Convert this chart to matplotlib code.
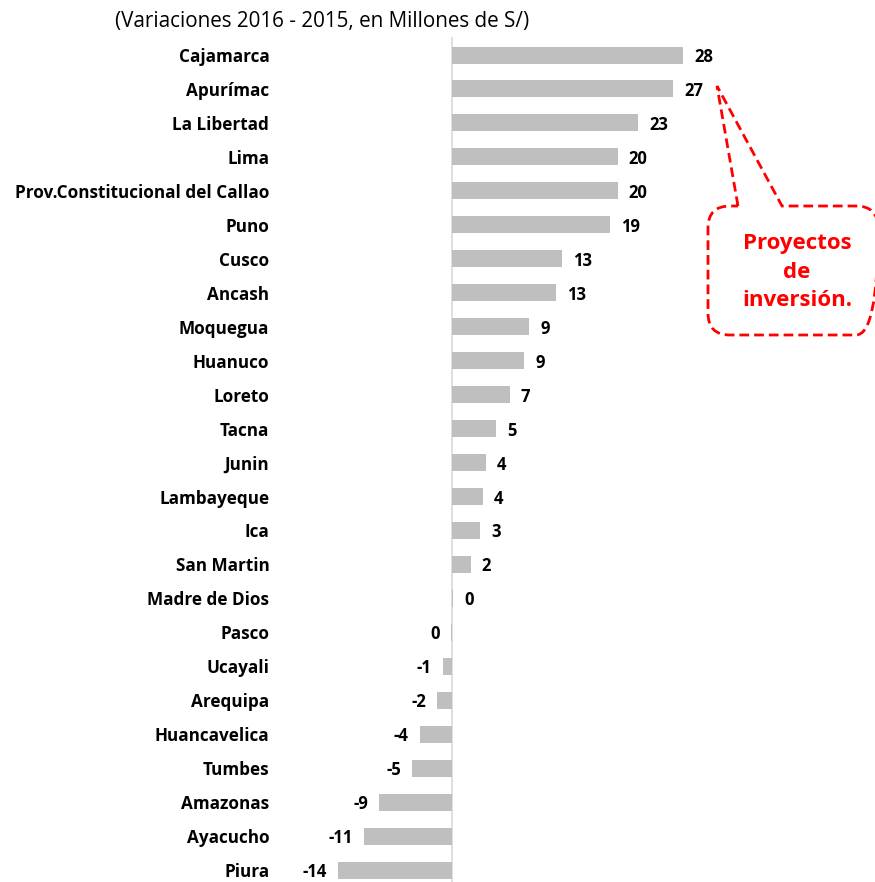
import matplotlib.pyplot as plt
from matplotlib.path import Path
from matplotlib.patches import PathPatch

# Regiones y variacion 2016 - 2015 (millones de S/)
regiones = ['Cajamarca', 'Apurímac', 'La Libertad', 'Lima',
            'Prov.Constitucional del Callao', 'Puno', 'Cusco', 'Ancash',
            'Moquegua', 'Huanuco', 'Loreto', 'Tacna', 'Junin', 'Lambayeque',
            'Ica', 'San Martin', 'Madre de Dios', 'Pasco', 'Ucayali',
            'Arequipa', 'Huancavelica', 'Tumbes', 'Amazonas', 'Ayacucho', 'Piura']
variacion = [28.0, 26.8, 22.6, 20.1, 20.1, 19.2, 13.3, 12.6, 9.4, 8.8, 7.0,
             5.4, 4.1, 3.8, 3.4, 2.3, 0.2, -0.1, -1.1, -1.8, -3.9, -4.8,
             -8.8, -10.6, -13.8]

W, H = 875, 882
fig = plt.figure(figsize=(W / 100, H / 100), dpi=100)
ax = fig.add_axes([0.33, 0, 0.67, 1])

pos = list(range(len(regiones)))
ax.barh(pos, variacion, height=0.5, color='#bfbfbf', zorder=2)
ax.plot([0, 0], [-0.5, len(regiones)], color='#d9d9d9', lw=1.2, zorder=1)

# etiquetas de valor
for i, v in enumerate(variacion):
    txt = '%d' % round(v)
    if v >= 0:
        ax.annotate(txt, (v, i), xytext=(11, -2), textcoords='offset pixels',
                    ha='left', va='center', fontsize=12, fontweight='bold',
                    family='Open Sans')
    else:
        ax.annotate(txt, (v, i), xytext=(-11, -2), textcoords='offset pixels',
                    ha='right', va='center', fontsize=12, fontweight='bold',
                    family='Open Sans')

ax.set_yticks(pos)
ax.set_yticklabels(regiones, fontsize=12.3, fontweight='bold',
                   family='Open Sans')
ax.tick_params(axis='y', length=0, pad=14)
ax.set_xticks([])
ax.set_xlim(-19.76, 51.27)
ax.set_ylim(24.35, -1.62)
for s in ax.spines.values():
    s.set_visible(False)

fig.text(115 / W, 1 - 21 / H, '(Variaciones 2016 - 2015, en Millones de S/)',
         ha='left', va='center', fontsize=14.9, family='Open Sans')


# globo de texto con linea discontinua
def px(x, y):
    return (x / W, 1 - y / H)


pts = [(738, 206), (717, 86), (782, 206), (856, 206), (878, 206), (878, 228),
       (878, 313), (878, 335), (856, 335), (730, 335), (708, 335), (708, 313),
       (708, 228), (708, 206), (730, 206), (738, 206)]
codes = [Path.MOVETO, Path.LINETO, Path.LINETO, Path.LINETO, Path.CURVE3,
         Path.CURVE3, Path.LINETO, Path.CURVE3, Path.CURVE3, Path.LINETO,
         Path.CURVE3, Path.CURVE3, Path.LINETO, Path.CURVE3, Path.CURVE3,
         Path.LINETO]
globo = PathPatch(Path([px(*p) for p in pts], codes), transform=fig.transFigure,
                  facecolor='none', edgecolor='#ff0000', lw=2,
                  linestyle=(0, (3.5, 1.8)))
fig.add_artist(globo)
fig.text(797 / W, 1 - 272 / H, 'Proyectos\nde\ninversión.', ha='center',
         va='center', color='#ff0000', fontsize=16, fontweight='bold',
         family='Open Sans', linespacing=1.45)

fig.savefig('out.png', dpi=100)
